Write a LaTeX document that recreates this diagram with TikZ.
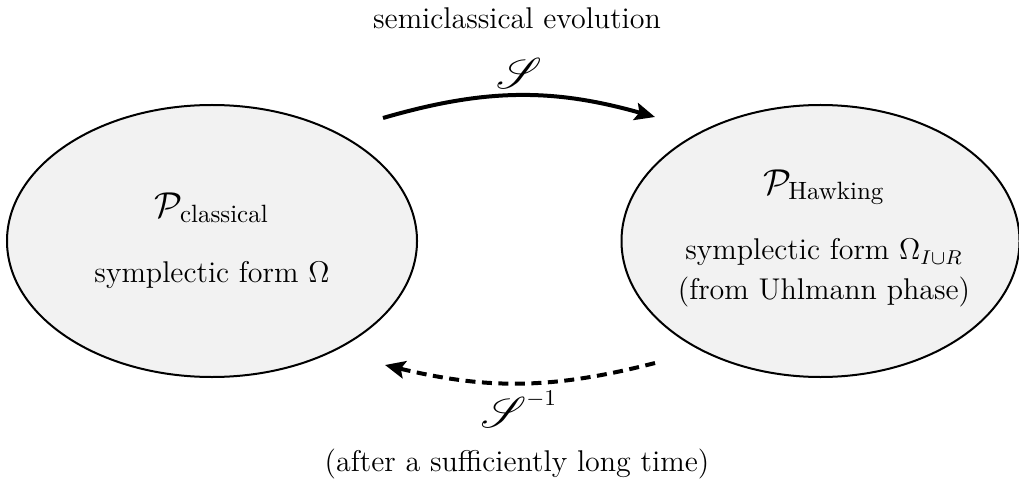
\documentclass[tikz,border=0pt]{standalone}
\usepackage{amsmath}
\usepackage{mathrsfs}
\usetikzlibrary{arrows.meta,shapes.geometric}
\begin{document}
\begin{tikzpicture}[x=0.4pt,y=-0.4pt,
  space/.style={ellipse,draw=black,line width=0.8pt,fill=gray!10,inner sep=0pt},
  inner/.style={inner sep=0pt,font=\large},
  title/.style={inner sep=0pt,font=\Large},
  outer/.style={inner sep=0pt,font=\large},
  maparrow/.style={line width=1.6pt,-{Stealth[length=8pt,width=7pt,inset=1.5pt]}},
  backarrow/.style={maparrow,dash pattern=on 4pt off 2.6pt}]
\useasboundingbox (0,0) rectangle (1019,479);
\node[space,minimum width=164pt,minimum height=108.8pt] (L) at (212,241) {};
\node[space,minimum width=159.2pt,minimum height=108.8pt] (R) at (820.5,241) {};
\node[title] (Lt) at (212,208) {$\mathcal{P}_{\text{classical}}$};
\node[inner] (Ls) at (212,275) {symplectic form $\Omega$};
\node[title] (Rt) at (824,187) {$\mathcal{P}_{\text{Hawking}}$};
\node[inner] (Rs) at (824,252) {symplectic form $\Omega_{I\cup R}$};
\node[inner] (Ru) at (824,292) {(from Uhlmann phase)};
\node[outer] (top) at (517,18) {semiclassical evolution};
\node[outer] (bot) at (517,464) {(after a sufficiently long time)};
\node[inner sep=0pt] (S) at (519,73) {\LARGE$\mathscr{S}$};
\node[outer] (Si) at (519,409) {$\text{\LARGE$\mathscr{S}$}^{\text{\fontsize{9.5}{11}\selectfont$-1$}}$};
\coordinate (a1) at (383,118);
\coordinate (a2) at (655,117);
\coordinate (b1) at (655,363);
\coordinate (b2) at (385,365);
\draw[maparrow] (a1) to[bend left=16] (a2);
\draw[backarrow] (b1) to[bend left=14] (b2);
\end{tikzpicture}
\end{document}
